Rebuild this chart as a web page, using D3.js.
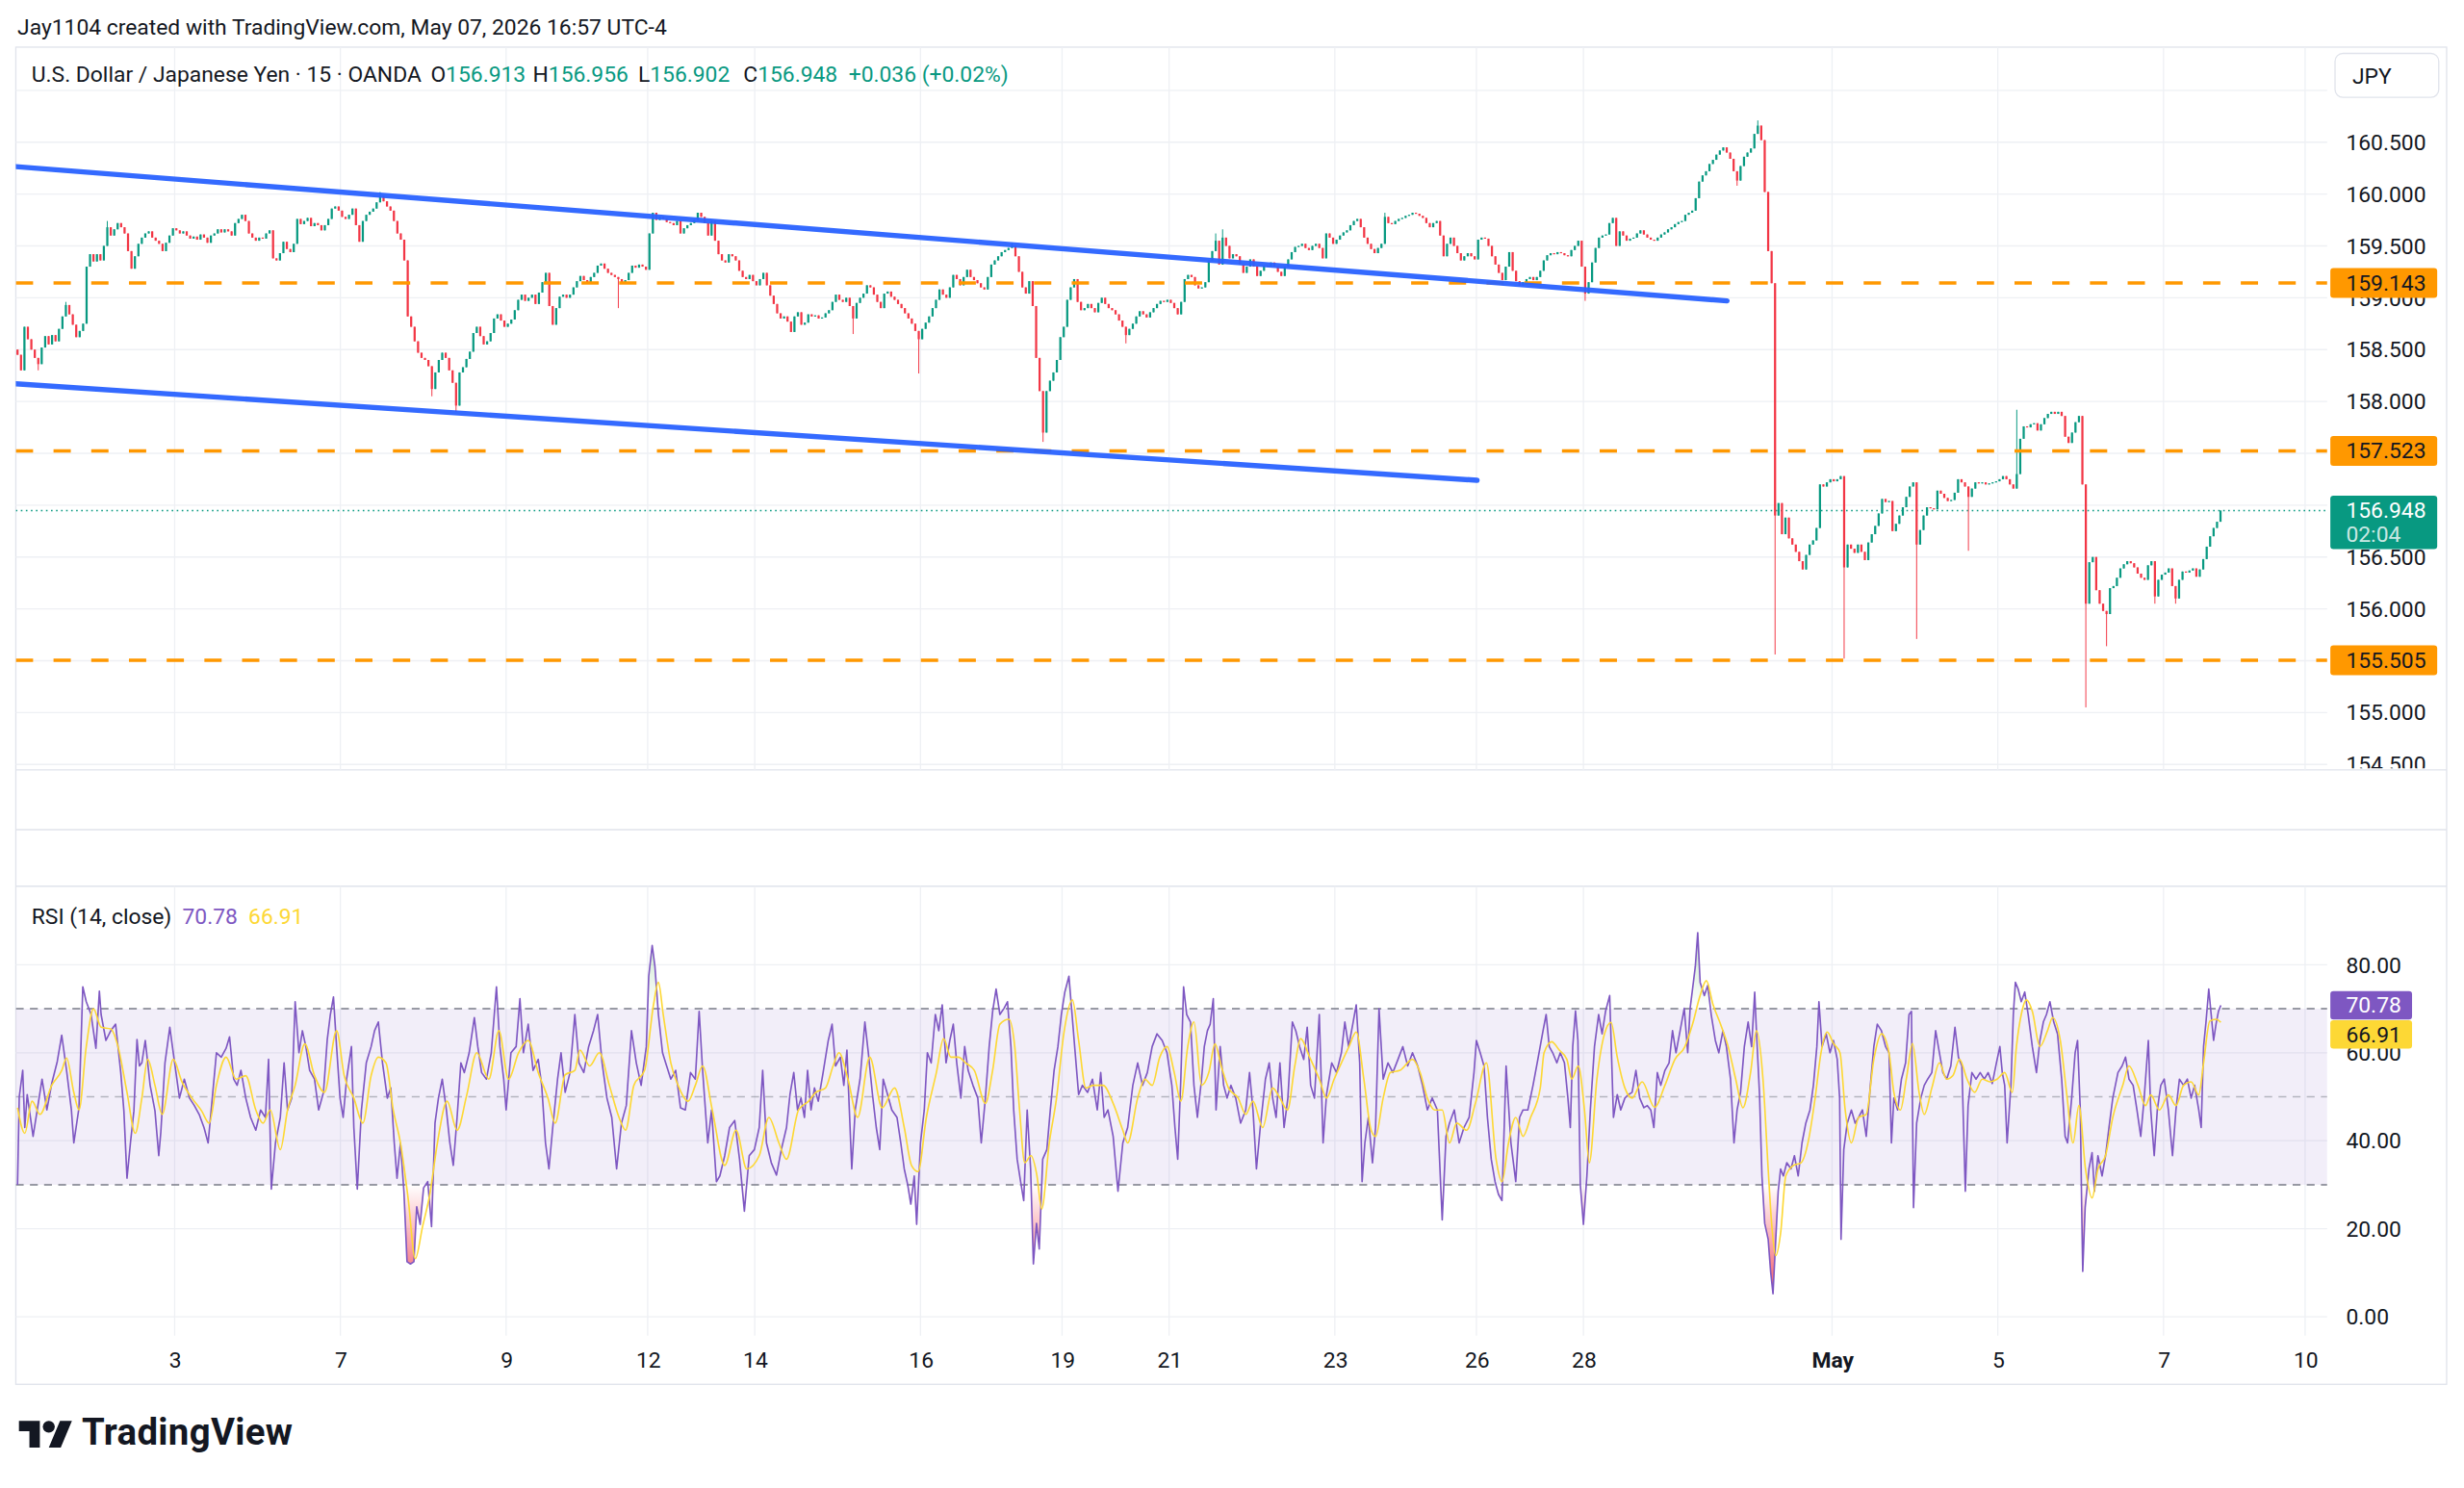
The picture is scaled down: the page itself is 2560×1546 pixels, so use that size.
<!DOCTYPE html>
<html>
<head>
<meta charset="utf-8">
<script src="https://cdn.jsdelivr.net/npm/d3@7"></script>
<style>
  html, body { margin: 0; padding: 0; background: #ffffff; }
  svg { display: block; }
</style>
</head>
<body>
<svg id="chart"></svg>
<script>
// hours are trading hours counted from Apr 3 00:00 (UTC-4), weekends removed
const START_HOUR = -46;
const FIRST_OPEN = 158.50;

// hourly closes, USD/JPY
const closes = [
  // Apr 1 - Apr 2
  158.45,158.30,158.72,158.60,158.50,158.42,158.36,158.52,158.63,158.55,
  158.64,158.58,158.70,158.82,158.93,158.84,158.74,158.62,158.68,158.75,
  159.30,159.42,159.35,159.42,159.36,159.50,159.68,159.60,159.66,159.72,
  159.68,159.62,159.45,159.28,159.40,159.52,159.58,159.62,159.64,159.58,
  159.55,159.52,159.45,159.53,159.60,159.67,
  // Apr 3 - Apr 10
  159.65,159.62,159.64,159.60,159.57,159.59,159.56,159.61,159.58,159.53,
  159.60,159.62,159.66,159.63,159.66,159.64,159.60,159.72,159.76,159.80,
  159.74,159.62,159.58,159.55,159.58,159.57,159.62,159.65,159.38,159.36,
  159.43,159.54,159.47,159.44,159.52,159.76,159.71,159.74,159.77,159.69,
  159.72,159.70,159.65,159.70,159.76,159.86,159.88,159.84,159.78,159.76,
  159.80,159.86,159.70,159.54,159.74,159.80,159.83,159.86,159.92,159.98,
  159.93,159.88,159.84,159.74,159.62,159.56,159.36,158.82,158.72,158.58,
  158.47,158.42,158.40,158.34,158.12,158.28,158.40,158.47,158.42,158.30,
  158.18,157.96,158.28,158.33,158.41,158.48,158.66,158.72,158.63,158.55,
  158.58,158.66,158.80,158.84,158.78,158.72,158.75,158.79,158.88,158.98,
  159.03,158.97,159.00,159.03,158.94,159.05,159.15,159.24,158.92,158.74,
  158.90,159.01,159.03,159.00,159.03,159.10,159.16,159.21,159.17,159.15,
  159.20,159.24,159.31,159.33,159.28,159.24,159.22,159.20,159.18,159.14,
  159.17,159.24,159.31,159.29,159.32,159.30,159.27,
  // Apr 12 - Apr 17
  159.62,159.82,159.75,159.78,159.76,159.73,159.72,159.70,159.74,159.62,
  159.67,159.70,159.72,159.75,159.82,159.78,159.72,159.60,159.74,159.55,
  159.42,159.36,159.34,159.42,159.40,159.36,159.26,159.20,159.18,159.22,
  159.16,159.12,159.18,159.24,159.12,159.02,158.94,158.85,158.80,158.82,
  158.77,158.67,158.82,158.86,158.74,158.76,158.84,158.82,158.83,158.80,
  158.81,158.85,158.88,158.96,159.03,158.98,158.96,159.00,158.92,158.80,
  158.95,159.00,159.04,159.12,159.10,159.03,158.96,158.90,159.04,159.06,
  159.01,158.98,158.94,158.90,158.85,158.80,158.75,158.68,158.60,158.70,
  158.76,158.82,158.90,158.98,159.08,159.03,159.00,159.10,159.22,159.18,
  159.12,159.20,159.27,159.20,159.17,159.14,159.10,159.08,159.20,159.32,
  159.36,159.40,159.44,159.46,159.48,159.50,159.40,159.25,159.10,159.04,
  159.16,158.92,158.42,158.10,157.70,158.10,158.20,158.28,158.40,158.62,
  // Apr 19 - Apr 24
  158.72,158.98,159.10,159.18,158.96,158.88,158.90,158.94,158.90,158.86,
  158.95,159.00,158.94,158.90,158.88,158.84,158.78,158.72,158.64,158.70,
  158.75,158.82,158.87,158.84,158.81,158.86,158.90,158.94,158.97,158.96,
  158.98,158.95,158.90,158.84,158.96,159.18,159.22,159.20,159.12,159.09,
  159.10,159.15,159.36,159.45,159.55,159.32,159.58,159.50,159.38,159.42,
  159.40,159.32,159.24,159.30,159.37,159.30,159.21,159.26,159.31,159.30,
  159.34,159.30,159.25,159.21,159.30,159.37,159.44,159.49,159.50,159.52,
  159.48,159.46,159.50,159.52,159.48,159.38,159.62,159.58,159.52,159.56,
  159.60,159.63,159.65,159.70,159.74,159.76,159.68,159.58,159.52,159.47,
  159.43,159.48,159.52,159.78,159.72,159.71,159.74,159.76,159.77,159.79,
  159.80,159.82,159.81,159.79,159.77,159.72,159.68,159.72,159.74,159.60,
  159.40,159.52,159.58,159.50,159.43,159.36,159.40,159.43,159.40,159.37,
  // Apr 26 - May 1
  159.56,159.58,159.57,159.50,159.40,159.32,159.24,159.17,159.30,159.44,
  159.26,159.16,159.12,159.15,159.18,159.20,159.17,159.20,159.26,159.36,
  159.41,159.43,159.42,159.44,159.43,159.41,159.40,159.46,159.50,159.55,
  159.30,159.04,159.15,159.34,159.48,159.58,159.60,159.61,159.72,159.77,
  159.50,159.64,159.60,159.55,159.57,159.58,159.62,159.65,159.61,159.58,
  159.56,159.55,159.58,159.61,159.63,159.66,159.68,159.71,159.73,159.74,
  159.80,159.82,159.84,159.96,160.12,160.18,160.22,160.29,160.33,160.38,
  160.42,160.45,160.40,160.34,160.22,160.13,160.27,160.36,160.40,160.44,
  160.58,160.66,160.52,160.02,159.45,159.14,156.90,157.02,156.72,156.88,
  156.68,156.62,156.55,156.46,156.38,156.52,156.62,156.66,156.78,157.20,
  157.18,157.22,157.25,157.23,157.25,157.28,156.40,156.62,156.58,156.54,
  156.62,156.55,156.47,156.64,156.72,156.80,156.92,157.06,157.03,157.04,
  // May 3 - May 7
  156.75,156.82,156.90,156.98,157.08,157.18,157.22,156.62,156.76,156.90,
  156.98,156.97,156.96,157.14,157.11,157.07,157.04,157.05,157.12,157.25,
  157.22,157.18,157.08,157.16,157.22,157.21,157.22,157.20,157.21,157.22,
  157.23,157.25,157.28,157.25,157.20,157.16,157.30,157.64,157.76,157.75,
  157.78,157.79,157.72,157.78,157.84,157.88,157.90,157.88,157.90,157.86,
  157.66,157.60,157.70,157.80,157.86,157.20,156.05,156.45,156.50,156.18,
  156.05,155.98,155.95,156.20,156.22,156.30,156.39,156.43,156.46,156.44,
  156.40,156.34,156.30,156.28,156.42,156.46,156.12,156.28,156.33,156.35,
  156.39,156.22,156.10,156.28,156.36,156.35,156.37,156.39,156.31,156.38,
  156.48,156.60,156.70,156.78,156.84,156.948
];

// wicks that reach past the bodies: [hour, price]
const lowWicks = [
  [-40,158.30],[74,158.05],[81,157.90],[128,158.90],[196,158.65],[215,158.27],
  [251,157.61],[275,158.56],[408,158.97],[452,160.08],[463,155.56],[483,155.52],
  [504,155.71],[519,156.56],[553,155.05],[559,155.64],[573,156.05],[579,156.05]
];
const highWicks = [
  [-32,158.96],[-20,159.74],[59,160.02],[242,159.53],[301,159.62],[303,159.66],
  [350,159.82],[458,160.71],[533,157.92]
];

const dayTickHours  = [0, 48, 96, 137, 168, 216, 257, 288, 336, 377, 408, 480, 528, 576, 617];
const dayTickLabels = ["3","7","9","12","14","16","19","21","23","26","28","May","5","7","10"];

const priceTicks = [154.5,155,155.5,156,156.5,157,157.5,158,158.5,159,159.5,160,160.5];
const priceGrid  = [154.5,155,155.5,156,156.5,157,157.5,158,158.5,159,159.5,160,160.5,161];
const rsiTicks = [0, 20, 40, 60, 80];

const levels = [159.143, 157.523, 155.505];
const lastPrice = 156.948;
const lastCountdown = "02:04";

// channel drawn on the chart: [hour, price]
const channelUpper = [[-46, 160.265], [449.6, 158.97]];
const channelLower = [[-46, 158.17], [377.2, 157.24]];

// RSI(14): [hour, value]
const rsiPoints = [
  [-45.5,30],[-45,50],[-44,56],[-43.4,43],[-42.7,50.5],[-41,41],[-40,46],[-38.4,54],[-37,47],[-35.6,53],
  [-34,58],[-32.7,64],[-31.3,56],[-29.9,47],[-29.2,39.5],[-27.7,47.5],[-26.6,75],[-25.6,71.6],[-24.2,68.7],[-22.8,61],
  [-21.8,74],[-21.3,68.7],[-19.9,62.8],[-18.5,65],[-17.1,66.5],[-15.6,55.5],[-14.7,46.8],[-13.8,31.5],[-12.8,39.5],[-11.8,46.8],
  [-10.9,63],[-10.2,57],[-9.5,57.7],[-8.5,62.8],[-7.1,52.6],[-5.7,46.8],[-4.6,36.6],[-4,42],[-2.8,57.7],[-1.4,65.8],
  [0,57.7],[1.4,49.7],[2.8,54],[4.3,49.7],[5.7,48],[7.1,46],[8.5,43],[9.7,39.5],[10.7,48],[12.1,60],
  [13.5,59],[14.9,61],[15.9,63.6],[17.1,54],[18.1,52.6],[19.2,56],[20.6,49.7],[22,45.3],[23.5,42.4],[24.9,47],
  [26.3,45.3],[27.2,58.5],[28,29],[29.2,39.5],[30.6,45.3],[31.7,57.7],[32.7,47],[33.9,49.7],[34.9,71.6],[36,60],
  [37,65],[38,61.4],[39.1,56],[40.5,54],[41.7,47],[43.1,51],[44.2,63],[45.1,68.7],[46,72.7],[46.9,61.4],
  [47.9,49.7],[48.8,45.3],[49.8,54],[51.2,61.4],[51.9,43],[52.9,29],[54.1,47],[55.5,57.7],[56.9,61.4],[57.9,65],
  [59,67],[60.2,57.7],[61.6,49.7],[62.6,52],[63.6,39.5],[64.4,31.5],[65.4,39.5],[66.4,28.5],[67.3,12.5],[68.3,12],
  [69.3,12.5],[70.1,25],[71.1,21],[72.1,29.3],[73.3,30.7],[74.4,20.5],[75.4,44],[76.4,49.7],[77.5,54],[78.7,47],
  [79.7,39.5],[80.7,34.4],[81.8,45.3],[82.9,57.7],[83.9,55.5],[85.3,60],[86.8,68],[87.8,61.4],[88.9,55.5],[90.3,54],
  [91.7,60],[93.2,75],[94.2,61.4],[95.3,54],[96,47],[97.4,60],[98.9,61.4],[100,72.3],[101,60],[102.4,66.5],
  [103.8,56],[105.3,58.5],[106.3,52.6],[107.4,39.5],[108.4,33.6],[109.5,43],[110.9,54],[111.9,60],[113.1,51],[114.5,55.5],
  [115.9,68.7],[117.1,57.7],[118.5,55.5],[119.9,61.4],[121.3,65],[122.5,68.7],[123.8,57.7],[125.2,49.7],[126.6,45.3],[128,33.6],
  [129.4,44],[130.8,48],[132.3,65],[133.7,57.7],[135.1,52.6],[136.6,61.4],[137.3,77.4],[138.3,84.4],[139.1,79.6],[140.1,68.7],
  [141.3,60],[142.2,57.7],[143.7,54],[145.1,56],[146.5,47.5],[147.9,47],[149.4,55.5],[150.8,54],[151.9,69.4],[152.9,56],
  [154.4,39.5],[155.5,47],[156.9,30.7],[157.9,32],[159.3,36.6],[160.7,43],[162.2,44.6],[163.6,35.8],[165,24],[166.4,36.6],
  [167.9,38],[169.3,43],[170.3,56],[171.4,39.5],[172.8,35],[174.3,32.2],[175.7,38],[177.2,43],[178.2,50.5],[179.3,55.5],
  [180.4,47],[181.4,49.7],[182.4,45.3],[183.3,56],[184.3,47],[185.3,52],[186.4,49],[187.8,55.5],[189.3,62.8],[190.4,66.5],
  [191.4,57],[192.8,59],[193.8,52.6],[194.7,60.6],[195.4,47],[196.1,33.6],[197.1,47],[198.5,54],[199.9,67],[200.9,60],
  [202.1,50.5],[203.2,43],[204.2,38],[205.2,54],[206.3,51],[207.7,47],[209.2,45.3],[210.3,39.5],[211.3,33.6],[212.3,30],
  [213.2,25.6],[214.2,32],[214.9,21],[216,39.5],[217.1,47],[218,60],[219.1,57.7],[220.3,68.7],[221.3,65],[222.3,70.9],
  [223.4,57.7],[224.5,62.8],[225.5,66.5],[226.5,57.7],[227.7,49.7],[228.8,61.4],[229.8,56],[231.2,52.6],[232.6,49.7],[233.6,39.5],
  [234.8,49.7],[235.9,61.4],[236.9,69.4],[237.9,74.5],[239,68.7],[240.2,70.1],[241.2,71.6],[242.2,61.4],[243,47],[244,35.8],
  [245,30.7],[245.9,26.4],[246.9,47],[247.9,33.6],[248.7,12],[249.6,21.2],[250.4,15.4],[251.4,35.8],[252.6,38],[253.6,47],
  [254.7,56],[255.8,61.4],[256.8,68.7],[257.8,73.8],[259,77.4],[259.9,68.7],[260.8,60],[261.8,50.5],[262.9,52.6],[264.4,51],
  [265.8,54],[267.2,47],[268.2,55.5],[269.2,45.3],[270.3,47],[271.8,41],[273.2,28.5],[274.6,39.5],[276,43],[277.5,52.6],
  [278.9,57.7],[280.3,52.6],[281.7,55.5],[283.1,61.4],[284.5,64.3],[286,62.8],[287.4,60],[288.8,52.6],[289.7,43],[290.5,35.8],
  [291.4,54],[292.2,75],[293.1,68.7],[294.2,67],[295.2,52.6],[296.2,45.3],[297.4,54],[298.2,61.4],[299.1,65],[299.9,66.5],
  [300.8,72.3],[301.6,47],[302.8,61.4],[303.8,52.6],[304.8,49.7],[305.9,52.6],[307.3,49.7],[308.7,44],[310.2,47],[311.3,55.5],
  [312.3,47],[313.3,33.6],[314.4,43],[315.9,54],[317,57.7],[318,49.7],[319,45.3],[320.1,57.7],[321.3,43],[322.4,49.7],
  [323.7,67],[324.7,65],[325.8,61.4],[327,58.5],[328,65.8],[329,52.6],[330.1,49.7],[331.5,68.7],[332.6,39.5],[333.6,50.5],
  [335.1,57.7],[336.5,55.5],[337.9,60],[338.9,67],[340,61.4],[341.2,66.5],[342.2,70.9],[343.2,57.7],[343.9,30.7],[344.7,39.5],
  [345.7,45.3],[346.9,35],[347.8,43],[348.8,70],[350,54],[351.4,57.7],[352.8,55.5],[354.3,58.5],[355.7,61.4],[357.1,57],
  [358.5,60],[360,57],[361.4,52.6],[362.8,47],[364.2,49.7],[365.7,47],[367.1,22],[368.2,41],[369.2,44],[370.6,47],
  [372,39.5],[373.4,43],[374.9,45.3],[376.3,55.5],[377,62.8],[378.1,60],[379.2,57],[380.2,45.3],[381.3,35.8],[382.4,30.7],
  [383.4,27.8],[384.4,26.4],[385.6,57],[387,39.5],[388.4,30.7],[389.5,45.3],[390.5,47],[391.9,47],[393.4,52.6],[394.8,58.5],
  [396.3,65],[397.2,68.7],[398.1,61.4],[399.1,60],[400.3,57.7],[401.3,60],[402.5,57.7],[403.5,49.7],[404.2,43],[404.9,61.4],
  [405.7,69.5],[406.4,62.8],[407.1,30],[408,21],[409,32],[410,47],[411.2,61.4],[412.4,68.7],[413.4,64.3],[414.4,69.4],
  [415.6,73],[416.7,45.3],[417.8,50.5],[418.8,47],[420,49.7],[421.1,50.5],[422.1,51],[423.2,56],[424.3,49.7],[425.5,47.5],
  [426.5,48],[427.5,47],[428.4,43],[429.4,55.5],[430.4,52.6],[431.6,56],[432.8,57.7],[433.8,65],[434.8,60],[436,65],
  [437.2,70.1],[438.2,60],[438.9,70.1],[439.6,74.5],[440.4,79.6],[441.1,87.3],[441.8,76],[443,73],[444,75.3],[445,68.7],
  [446.2,62.8],[447.2,60],[448.4,65],[449.4,61.4],[450.6,54],[451.6,39.5],[452.5,47],[453.5,51],[454.6,61.4],[455.7,67],
  [456.7,61.4],[457.6,73.8],[458.1,65],[459,50.5],[459.7,32],[460.5,21.2],[461.5,17.6],[462.2,10.3],[462.9,5.2],[463.7,17.6],
  [464.4,28.5],[465.1,33.6],[465.9,32],[466.9,35],[468.1,33.6],[469.1,36.6],[470.2,32],[471.3,39.5],[472.4,44],[473.6,47],
  [474.6,52.6],[475.6,61.4],[476.2,71.6],[477.1,61.4],[478.3,64.3],[479.4,60],[480.4,62.8],[481.5,58.5],[482.2,49.7],[482.6,17.6],
  [483.4,38],[484.4,44],[485.6,47],[486.7,44],[487.7,45.3],[488.8,47],[489.9,41],[491.1,52.6],[492.1,61.4],[493.1,66.5],
  [494.3,65],[495.5,61.4],[496.5,60],[497.2,39.5],[497.9,49.7],[499,47],[500.1,54],[501.3,57.7],[502.3,68.7],[503,69.4],
  [503.6,24.8],[504.5,44],[505.7,49.7],[506.7,52.6],[507.7,54],[508.9,55.5],[510,65],[511.1,60],[512.1,55.5],[513.2,54],
  [514.4,57],[515.6,65.8],[516.6,59],[517.6,57],[518.6,28.5],[519.4,48],[520.5,55.5],[521.7,54],[522.9,55.5],[524.1,54],
  [525.2,55.5],[526.4,53],[527.6,57.7],[528.6,61.4],[529.3,55.5],[530,52.6],[530.7,39.5],[531.8,52.6],[532.5,68.7],[533.1,76],
  [533.9,74.5],[534.8,71.6],[535.8,73.8],[536.8,68.7],[538,61.4],[539.2,55.5],[540.2,62.8],[541.2,67],[542.1,68.7],[543.1,71.6],
  [544.2,67],[545.3,64.3],[546.5,54],[547.5,41],[548.2,39.5],[549.4,49.7],[550.4,60],[551.1,62.8],[551.9,47],[552.3,24.8],
  [552.6,10.3],[553.3,24.8],[554.4,33.6],[555.3,37.3],[556,28.5],[557,36.6],[558.2,32],[559.2,36.6],[560.2,43],[561.3,49.7],
  [562.8,55.5],[564,57],[565,59],[566,54],[567.2,52.6],[568.3,47],[569.4,41],[570.4,49.7],[571.6,62.8],[572.3,47],
  [573.3,36.6],[574.2,47],[575.2,52.6],[576.2,54],[577.4,47],[578.6,36.6],[579.6,47],[580.6,54],[581.8,52.6],[582.9,54],
  [584,49.7],[585,52.6],[586.2,47],[586.9,43],[587.6,61.4],[588.3,67],[589.1,74.5],[589.8,68.7],[590.5,62.8],[591.2,66.5],
  [591.9,69.4],[592.6,70.78]
];

// RSI-based MA (yellow): [hour, value]
const rsiMaPoints = [
  [-45.5,47.5],[-43.4,41.7],[-41.3,49],[-39,46],[-35.6,52.6],[-32.7,56],[-31.3,58.8],[-29.2,51],[-27.7,47],[-25.6,61.4],
  [-23.5,70],[-21.3,65.8],[-18.5,65.4],[-16.4,61.4],[-13.8,51],[-11.4,41.7],[-9.5,49.7],[-7.8,58.5],[-5.7,52.6],[-3.6,46],
  [-0.4,58.5],[2.1,53.4],[5,49.7],[7.8,46.8],[10,44],[12.1,52.6],[14.9,59],[17.8,54],[20.6,54.8],[23.5,47],
  [25.6,44],[27.7,47],[30.6,38],[32.7,47],[34.9,52.6],[37.7,62],[40.5,54.8],[43.4,51],[46.9,65],[49.1,54.8],
  [51.9,49.7],[54.5,44],[56.9,54.8],[59,59],[61.2,57.7],[63.3,47],[65.4,39.5],[67.6,27],[69.7,13.2],[71.8,20.5],
  [73.9,27.8],[76.1,39.5],[78.9,49],[81.8,42.4],[84.6,50.4],[87.5,60],[91,54],[93.9,65],[96.7,54],[99.6,60],
  [102.4,62.8],[105.3,55.5],[108.1,49.7],[110.2,44],[113.1,55],[115.9,56],[117.4,60.6],[120.2,57],[123,60],[125.9,52.6],
  [128.7,45.3],[130.6,42.4],[133,52.6],[136.1,56],[138.7,71],[140.1,76],[141.5,68.7],[143.7,57.7],[145.8,52.6],[148.7,49],
  [150.8,52.6],[152.9,57],[155.7,47],[159.3,34.4],[162.6,42.4],[165.7,33.6],[169.3,36.6],[172.1,45.3],[175,39.5],[177.2,35.8],
  [180.7,47],[183.6,49],[185.7,51],[188.5,52],[190.7,57],[192.4,60],[195,54],[197.8,45.3],[201.3,59],[204.9,47.5],
  [208.5,52],[211.3,43],[213.4,34.4],[215.3,33],[217.7,45.3],[220.6,55.5],[222.7,63.2],[224.8,59],[227,59],[229.1,57.7],
  [231.6,56],[234.8,48.5],[236.9,56],[239,66.5],[241.6,67.6],[243.3,61.4],[244.7,47],[246.2,35],[248,36.6],[249.7,32.2],
  [251.1,24.5],[253.3,39.5],[255.4,49.7],[257.5,64.3],[260,72],[261.8,62.8],[263.9,52],[266.1,52.6],[268.9,52.6],[271.8,48.5],
  [274.6,42.4],[276,39.5],[278.9,49.7],[281,54],[283.1,52.6],[285.3,59],[287.4,61.4],[289.5,55.5],[291.4,49],[293.4,61.4],
  [295.2,67],[297.4,52.6],[299.5,55.5],[301.3,62],[303.1,57],[305.2,52],[308,49.7],[310.2,46],[312.3,49],[315.1,43],
  [318,52],[320.1,49.7],[322.3,47],[324.4,57],[326.1,63.2],[328.7,59],[331.5,54],[333.6,49.7],[335.8,54],[337.9,57.7],
  [340.1,61.4],[342.2,64.7],[344.4,54],[346.5,42.4],[347.8,41],[350,49.7],[352.1,55.5],[354.9,56],[358.5,58.5],[360.7,55.5],
  [362.8,49.7],[364.9,47],[367.1,47],[369.2,39.5],[371.3,44],[374.2,42.4],[376.7,48.5],[379.9,57.7],[382.7,35.8],[384.4,30.7],
  [386.3,39.5],[388.4,45.3],[390.5,41],[392.7,45.3],[395.5,52],[396.6,60],[398.8,62.5],[401,60.6],[403.2,58.5],[404.6,54],
  [406.5,57],[408.3,47],[409.7,35],[411.9,54],[414.1,64.3],[416,66.9],[417.8,59],[420,52],[422.1,49.7],[425,53.4],
  [428.6,47.6],[431.6,52.6],[434.5,58.5],[437.4,61.4],[439.6,66.5],[441.8,73],[443.6,76.4],[445.5,71],[447.7,66.5],[449.9,61.4],
  [452.1,54],[454.2,47.5],[456.4,55.5],[458.1,65],[460,54],[461.5,33.6],[462.5,21.2],[463.7,13.9],[465.1,19],[466.6,32],
  [468.8,34.4],[471,35],[473.2,40.2],[475.1,49.7],[476.8,60],[478.6,64.7],[480.4,62.1],[482.3,60],[483.8,47],[485.6,39.5],
  [487.7,45.3],[489.9,46],[492.1,58.5],[494.3,64.3],[496.5,60],[497.9,51],[499.8,47],[501.5,54],[503.3,62.1],[505.2,51],
  [506.7,46],[508.9,52],[511.1,57.7],[513.2,54],[515,54.8],[516.9,58.5],[519.1,54],[521.3,51],[523.5,54],[525.7,53.4],
  [527.8,54],[530,55.5],[532.2,51],[533.4,61.4],[534.8,68.7],[536.3,72],[538,69.4],[540.2,61.4],[542.4,65],[543.9,68],
  [546.1,62.8],[548,50.4],[549.8,39.5],[551.5,48],[553.4,33.6],[555.3,27],[557,33.6],[559.2,36.6],[561.3,45.3],[564.2,52.6],
  [566,57],[568.6,52.6],[570.8,48],[572.3,50.4],[574.8,47],[577.4,50.4],[579.6,48],[581.8,52.6],[584,53.4],[586.2,50.4],
  [587.6,57.7],[589.4,67.2],[591.2,67.6],[592.6,66.91]
];

const lastRsi = 70.78;
const lastRsiMa = 66.91;

const headerText = "Jay1104 created with TradingView.com, May 07, 2026 16:57 UTC-4";
const symbolTitle = "U.S. Dollar / Japanese Yen · 15 · OANDA";
const ohlcLabels = ["O", "H", "L", "C"];
const ohlcValues = ["156.913", "156.956", "156.902", "156.948"];
const changeText = "+0.036 (+0.02%)";

// ---- layout (units of the 1568 wide view) ----
const VW = 1568, VH = 947;
const LEFT = 10, PLOT_RIGHT = 1481, FRAME_RIGHT = 1557;
const TOP = 30, PRICE_BOTTOM = 490, MID_LINE = 528, RSI_TOP = 564, RSI_BOTTOM = 850, FRAME_BOTTOM = 881;

const UP = "#089981", DOWN = "#f23645", TEXT = "#131722", GRID = "#eef0f4", BORDER = "#e0e3eb";
const FONT = "Roboto, 'Noto Sans', sans-serif";
const FS = 14;

const svg = d3.select("#chart")
  .attr("width", 2560).attr("height", 1546)
  .attr("viewBox", `0 0 ${VW} ${VH}`);

svg.append("rect").attr("width", VW).attr("height", VH).attr("fill", "#fff");

const x = d3.scaleLinear().domain([-46, 623.4]).range([LEFT, PLOT_RIGHT]);
const yP = d3.scaleLinear().domain([154.5, 160.5]).range([486.5, 90.5]);
const yR = d3.scaleLinear().domain([0, 80]).range([838, 614]);

const defs = svg.append("defs");
function clip(id, x0, y0, w, h) {
  defs.append("clipPath").attr("id", id).append("rect").attr("x", x0).attr("y", y0).attr("width", w).attr("height", h);
}
clip("price-clip", LEFT, TOP, PLOT_RIGHT - LEFT, PRICE_BOTTOM - TOP);
clip("rsi-clip", LEFT, RSI_TOP, PLOT_RIGHT - LEFT, RSI_BOTTOM - RSI_TOP);
clip("ob-clip", LEFT, RSI_TOP, PLOT_RIGHT - LEFT, yR(70) - RSI_TOP);
clip("os-clip", LEFT, yR(30), PLOT_RIGHT - LEFT, RSI_BOTTOM - yR(30));
clip("paxis-clip", PLOT_RIGHT, TOP, FRAME_RIGHT - PLOT_RIGHT, PRICE_BOTTOM - TOP - 1);

const ob = defs.append("linearGradient").attr("id", "ob-grad").attr("gradientUnits", "userSpaceOnUse")
  .attr("x1", 0).attr("x2", 0).attr("y1", yR(100)).attr("y2", yR(70));
ob.append("stop").attr("offset", 0).attr("stop-color", "#4caf50").attr("stop-opacity", 0.55);
ob.append("stop").attr("offset", 1).attr("stop-color", "#4caf50").attr("stop-opacity", 0);
const os = defs.append("linearGradient").attr("id", "os-grad").attr("gradientUnits", "userSpaceOnUse")
  .attr("x1", 0).attr("x2", 0).attr("y1", yR(30)).attr("y2", yR(0));
os.append("stop").attr("offset", 0).attr("stop-color", "#f23645").attr("stop-opacity", 0);
os.append("stop").attr("offset", 1).attr("stop-color", "#f23645").attr("stop-opacity", 1);

// header
svg.append("text").attr("x", 11).attr("y", 22).text(headerText)
  .attr("font-family", FONT).attr("font-size", FS).attr("fill", TEXT);

// frame and pane separators
svg.append("rect").attr("x", LEFT).attr("y", TOP).attr("width", FRAME_RIGHT - LEFT).attr("height", FRAME_BOTTOM - TOP)
  .attr("fill", "none").attr("stroke", BORDER).attr("stroke-width", 0.8);
[PRICE_BOTTOM, MID_LINE, RSI_TOP].forEach(yy => {
  svg.append("line").attr("x1", LEFT).attr("x2", FRAME_RIGHT).attr("y1", yy).attr("y2", yy)
    .attr("stroke", BORDER).attr("stroke-width", 0.8);
});

// grid
const grid = svg.append("g").attr("stroke", GRID).attr("stroke-width", 0.8);
grid.selectAll(".vp").data(dayTickHours).join("line").attr("class", "vp")
  .attr("x1", d => x(d)).attr("x2", d => x(d)).attr("y1", TOP).attr("y2", PRICE_BOTTOM);
grid.selectAll(".vr").data(dayTickHours).join("line").attr("class", "vr")
  .attr("x1", d => x(d)).attr("x2", d => x(d)).attr("y1", RSI_TOP).attr("y2", RSI_BOTTOM);
grid.selectAll(".hp").data(priceGrid).join("line").attr("class", "hp")
  .attr("x1", LEFT).attr("x2", PLOT_RIGHT).attr("y1", d => yP(d)).attr("y2", d => yP(d));
grid.selectAll(".hr").data(rsiTicks).join("line").attr("class", "hr")
  .attr("x1", LEFT).attr("x2", PLOT_RIGHT).attr("y1", d => yR(d)).attr("y2", d => yR(d));

// candles
const candles = closes.map((c, i) => {
  const o = i ? closes[i - 1] : FIRST_OPEN;
  return { t: START_HOUR + i, o, c, h: Math.max(o, c), l: Math.min(o, c) };
});
lowWicks.forEach(([t, v]) => { const k = candles[t - START_HOUR]; if (k) k.l = Math.min(k.l, v); });
highWicks.forEach(([t, v]) => { const k = candles[t - START_HOUR]; if (k) k.h = Math.max(k.h, v); });

const pricePane = svg.append("g").attr("clip-path", "url(#price-clip)");
const step = x(1) - x(0);
const bw = step * 0.62;

pricePane.append("line")
  .attr("x1", LEFT).attr("x2", PLOT_RIGHT).attr("y1", yP(lastPrice)).attr("y2", yP(lastPrice))
  .attr("stroke", UP).attr("stroke-width", 0.9).attr("stroke-dasharray", "1,2.2");

const cg = pricePane.append("g");
cg.selectAll("line").data(candles).join("line")
  .attr("x1", d => x(d.t + 0.5)).attr("x2", d => x(d.t + 0.5))
  .attr("y1", d => yP(d.h)).attr("y2", d => yP(d.l))
  .attr("stroke", d => d.c >= d.o ? UP : DOWN).attr("stroke-width", 0.6);
cg.selectAll("rect").data(candles).join("rect")
  .attr("x", d => x(d.t + 0.5) - bw / 2).attr("width", bw)
  .attr("y", d => yP(Math.max(d.o, d.c)))
  .attr("height", d => Math.max(0.7, Math.abs(yP(d.o) - yP(d.c))))
  .attr("fill", d => d.c >= d.o ? UP : DOWN);

// horizontal levels
pricePane.selectAll(".lvl").data(levels).join("line").attr("class", "lvl")
  .attr("x1", LEFT).attr("x2", PLOT_RIGHT).attr("y1", d => yP(d)).attr("y2", d => yP(d))
  .attr("stroke", "#ff9800").attr("stroke-width", 2.2).attr("stroke-dasharray", "11,13");

// channel
const seg = d3.line().x(d => x(d[0])).y(d => yP(d[1]));
[channelUpper, channelLower].forEach(pts => {
  pricePane.append("path").attr("d", seg(pts)).attr("fill", "none")
    .attr("stroke", "#2962ff").attr("stroke-width", 3.3).attr("stroke-linecap", "round").attr("opacity", 0.95);
});

// legend
const leg = svg.append("text").attr("y", 52).attr("font-family", FONT).attr("font-size", FS).attr("fill", TEXT);
leg.append("tspan").attr("x", 20).text(symbolTitle);
const ohlcX = [274, 339, 406, 473];
ohlcLabels.forEach((lab, i) => {
  leg.append("tspan").attr("x", ohlcX[i]).text(lab);
  leg.append("tspan").attr("fill", UP).text(ohlcValues[i]);
});
leg.append("tspan").attr("x", 540).attr("fill", UP).text(changeText);

// price axis
const pAxis = svg.append("g").attr("clip-path", "url(#paxis-clip)");
pAxis.append("g").attr("transform", `translate(${PLOT_RIGHT},0)`)
  .call(d3.axisRight(yP).tickValues(priceTicks).tickFormat(d3.format(".3f")).tickSize(0).tickPadding(12))
  .call(g => g.select(".domain").remove())
  .selectAll("text").attr("font-family", FONT).attr("font-size", FS).attr("fill", TEXT);

function axisBox(g, y0, h, fill, lines, color) {
  g.append("rect").attr("x", 1483).attr("y", y0).attr("width", 68).attr("height", h).attr("rx", 2).attr("fill", fill);
  lines.forEach((s, i) => {
    g.append("text").attr("x", 1493).attr("y", y0 + 14.2 + i * 15).text(s)
      .attr("font-family", FONT).attr("font-size", FS).attr("fill", color)
      .attr("fill-opacity", i ? 0.8 : 1);
  });
}
levels.forEach(v => axisBox(svg, yP(v) - 9.5, 19, "#ff9800", [v.toFixed(3)], TEXT));
axisBox(svg, yP(lastPrice) - 9.5, 34, UP, [lastPrice.toFixed(3), lastCountdown], "#ffffff");

// currency button
svg.append("rect").attr("x", 1486).attr("y", 34).attr("width", 66).attr("height", 28).attr("rx", 5)
  .attr("fill", "#fff").attr("stroke", BORDER).attr("stroke-width", 0.8);
svg.append("text").attr("x", 1497).attr("y", 53).text("JPY")
  .attr("font-family", FONT).attr("font-size", FS).attr("fill", TEXT);

// RSI pane
const rsiPane = svg.append("g").attr("clip-path", "url(#rsi-clip)");
rsiPane.append("rect").attr("x", LEFT).attr("width", PLOT_RIGHT - LEFT)
  .attr("y", yR(70)).attr("height", yR(30) - yR(70)).attr("fill", "rgba(126,87,194,0.1)");
[70, 50, 30].forEach(v => {
  rsiPane.append("line").attr("x1", LEFT).attr("x2", PLOT_RIGHT).attr("y1", yR(v)).attr("y2", yR(v))
    .attr("stroke", "#787b86").attr("stroke-width", 0.9).attr("stroke-dasharray", "5,4")
    .attr("stroke-opacity", v === 50 ? 0.5 : 1);
});
rsiPane.append("g").attr("clip-path", "url(#ob-clip)").append("path")
  .attr("d", d3.area().x(d => x(d[0])).y0(yR(70)).y1(d => yR(d[1]))(rsiPoints))
  .attr("fill", "url(#ob-grad)");
rsiPane.append("g").attr("clip-path", "url(#os-clip)").append("path")
  .attr("d", d3.area().x(d => x(d[0])).y0(yR(30)).y1(d => yR(d[1]))(rsiPoints))
  .attr("fill", "url(#os-grad)");
const rline = d3.line().x(d => x(d[0])).y(d => yR(d[1]));
rsiPane.append("path").attr("d", rline(rsiPoints)).attr("fill", "none")
  .attr("stroke", "#7e57c2").attr("stroke-width", 1).attr("stroke-linejoin", "round");
rsiPane.append("path").attr("d", rline.curve(d3.curveMonotoneX)(rsiMaPoints)).attr("fill", "none")
  .attr("stroke", "#fdd835").attr("stroke-width", 1);

// RSI legend
const rleg = svg.append("text").attr("y", 588).attr("font-family", FONT).attr("font-size", FS).attr("fill", TEXT);
rleg.append("tspan").attr("x", 20).text("RSI (14, close)");
rleg.append("tspan").attr("x", 116).attr("fill", "#7e57c2").text(lastRsi.toFixed(2));
rleg.append("tspan").attr("x", 158).attr("fill", "#fdd835").text(lastRsiMa.toFixed(2));

// RSI axis
svg.append("g").attr("transform", `translate(${PLOT_RIGHT},0)`)
  .call(d3.axisRight(yR).tickValues(rsiTicks).tickFormat(d3.format(".2f")).tickSize(0).tickPadding(12))
  .call(g => g.select(".domain").remove())
  .selectAll("text").attr("font-family", FONT).attr("font-size", FS).attr("fill", TEXT);

function rsiBox(y0, fill, txt, color) {
  svg.append("rect").attr("x", 1483).attr("y", y0).attr("width", 52).attr("height", 18).attr("rx", 2).attr("fill", fill);
  svg.append("text").attr("x", 1493).attr("y", y0 + 13.8).text(txt)
    .attr("font-family", FONT).attr("font-size", FS).attr("fill", color);
}
rsiBox(yR(lastRsi) - 9, "#7e57c2", lastRsi.toFixed(2), "#ffffff");
rsiBox(yR(lastRsi) + 9.5, "#fdd835", lastRsiMa.toFixed(2), TEXT);

// time axis
svg.append("g").attr("transform", `translate(0,${RSI_BOTTOM})`)
  .call(d3.axisBottom(x).tickValues(dayTickHours).tickFormat((d, i) => dayTickLabels[i]).tickSize(0).tickPadding(10.5))
  .call(g => g.select(".domain").remove())
  .selectAll("text").attr("font-family", FONT).attr("font-size", FS).attr("fill", TEXT)
  .attr("font-weight", (d, i) => dayTickLabels[i] === "May" ? 700 : 400);

// TradingView logo
const logo = svg.append("g").attr("transform", "translate(12,900.4) scale(0.95)").attr("fill", TEXT);
logo.append("path").attr("d", "M14 22H7V11H0V4h14v18zM28 22h-8l7.5-18h8L28 22z");
logo.append("circle").attr("cx", 20).attr("cy", 8).attr("r", 4);
svg.append("text").attr("x", 52).attr("y", 919.5).text("TradingView")
  .attr("font-family", FONT).attr("font-weight", 700).attr("font-size", 23.5).attr("fill", TEXT)
  .attr("letter-spacing", 0.2);
</script>
</body>
</html>
